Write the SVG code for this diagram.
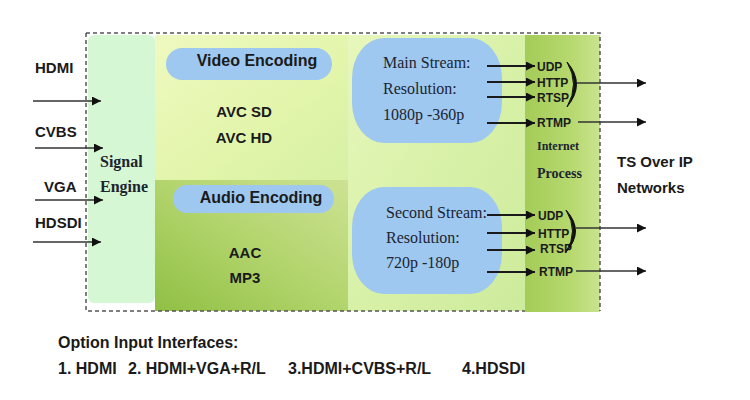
<svg xmlns="http://www.w3.org/2000/svg" width="750" height="400" viewBox="0 0 750 400">
  <style>
    .sans { font-family: "Liberation Sans", Arial, sans-serif; font-weight: bold; fill: #1a1a1a; }
    .lbl { font-size: 15px; }
    .hdr { font-size: 16px; }
    .proto { font-size: 12px; }
    .serif { font-family: "Liberation Serif", "Times New Roman", serif; fill: #1c2430; }
    .st { font-size: 16px; }
    .conn { stroke: #1a1a1a; fill: none; }
    .in { stroke-width: 1.4; stroke: #333; }
    .pr { stroke-width: 2; }
    .out { stroke-width: 1.4; stroke: #333; }
    .brk { fill: #111; stroke: #111; stroke-width: 1; stroke-linejoin: round; }
    .pill { fill: #9ec8f0; }
  </style>
  <defs>
    <marker id="ah" viewBox="0 0 10 10" refX="10" refY="5" markerWidth="9" markerHeight="9" markerUnits="userSpaceOnUse" orient="auto">
      <path d="M0,0 L10,5 L0,10 z" fill="#111"/>
    </marker>
    <linearGradient id="gVideo" x1="0" y1="0" x2="1" y2="1">
      <stop offset="0" stop-color="#eef9c0"/>
      <stop offset="0.6" stop-color="#e2f5aa"/>
      <stop offset="1" stop-color="#d6f0a4"/>
    </linearGradient>
    <linearGradient id="gAudio" x1="0" y1="1" x2="1" y2="0">
      <stop offset="0" stop-color="#90c044"/>
      <stop offset="0.5" stop-color="#b2d46c"/>
      <stop offset="1" stop-color="#cde294"/>
    </linearGradient>
    <linearGradient id="gStream" x1="0" y1="0" x2="1" y2="1">
      <stop offset="0" stop-color="#e8f7bc"/>
      <stop offset="0.5" stop-color="#d8f1a8"/>
      <stop offset="1" stop-color="#cdeb9c"/>
    </linearGradient>
    <linearGradient id="gNet" x1="0" y1="0" x2="1" y2="0">
      <stop offset="0" stop-color="#a4cc58"/>
      <stop offset="0.6" stop-color="#b6d86e"/>
      <stop offset="1" stop-color="#c9e48e"/>
    </linearGradient>
  </defs>

  <rect width="750" height="400" fill="#ffffff"/>

  <g id="video-encoding">
    <rect x="155" y="35" width="193" height="145" fill="url(#gVideo)"/>
    <rect class="pill" x="166" y="48" width="166" height="32" rx="16"/>
    <text class="sans hdr" x="257" y="66" text-anchor="middle">Video Encoding</text>
    <text class="sans lbl" x="244" y="117" text-anchor="middle">AVC SD</text>
    <text class="sans lbl" x="244" y="143" text-anchor="middle">AVC HD</text>
  </g>

  <g id="audio-encoding">
    <rect x="155" y="180" width="193" height="131" fill="url(#gAudio)"/>
    <rect class="pill" x="173" y="185" width="161" height="28" rx="14"/>
    <text class="sans hdr" x="261" y="203" text-anchor="middle">Audio Encoding</text>
    <text class="sans lbl" x="245" y="258" text-anchor="middle">AAC</text>
    <text class="sans lbl" x="245" y="283" text-anchor="middle">MP3</text>
  </g>

  <g id="stream-area">
    <rect x="348" y="35" width="177" height="276" fill="url(#gStream)"/>
  </g>

  <g id="main-stream">
    <rect class="pill" x="352" y="38" width="150" height="105" rx="32" ry="40"/>
    <text class="serif st" x="383" y="68">Main Stream:</text>
    <text class="serif st" x="383" y="94">Resolution:</text>
    <text class="serif st" x="383" y="120">1080p -360p</text>
  </g>

  <g id="second-stream">
    <rect class="pill" x="352" y="187" width="150" height="107" rx="32" ry="40"/>
    <text class="serif st" x="386" y="218">Second Stream:</text>
    <text class="serif st" x="386" y="243">Resolution:</text>
    <text class="serif st" x="386" y="268">720p -180p</text>
  </g>

  <g id="internet-process">
    <rect x="525" y="35" width="75" height="277" fill="url(#gNet)"/>
    <text class="serif" x="537" y="150" font-size="12" font-weight="bold">Internet</text>
    <text class="serif" x="537" y="178" font-size="14" font-weight="bold">Process</text>
    <text class="sans proto" x="537" y="71">UDP</text>
    <text class="sans proto" x="537" y="87">HTTP</text>
    <text class="sans proto" x="537" y="102">RTSP</text>
    <text class="sans proto" x="537" y="127">RTMP</text>
    <text class="sans proto" x="538" y="220">UDP</text>
    <text class="sans proto" x="538" y="238">HTTP</text>
    <text class="sans proto" x="540" y="253">RTSP</text>
    <text class="sans proto" x="539" y="276">RTMP</text>
  </g>

  <g id="signal-engine">
    <rect x="88" y="35" width="67" height="268" rx="6" fill="#d6f7d4"/>
    <text class="serif" x="100" y="167" font-size="16" font-weight="bold">Signal</text>
    <text class="serif" x="100" y="192" font-size="16" font-weight="bold">Engine</text>
  </g>

  <g id="device-border">
    <path d="M86,33 H600 V311 M86,33 V311 H525" fill="none" stroke="#555" stroke-width="1.5" stroke-dasharray="4,3"/>
  </g>

  <g id="inputs">
    <text class="sans lbl" x="35" y="73">HDMI</text>
    <text class="sans lbl" x="35" y="137">CVBS</text>
    <text class="sans lbl" x="44" y="192">VGA</text>
    <text class="sans lbl" x="35" y="228">HDSDI</text>
  </g>

  <g id="output">
    <text class="sans" x="617" y="167" font-size="15">TS Over IP</text>
    <text class="sans" x="617" y="193" font-size="15">Networks</text>
  </g>

  <g id="connectors">
    <path class="conn in" d="M33,101 H101" marker-end="url(#ah)"/>
    <path class="conn in" d="M35,148 H103" marker-end="url(#ah)"/>
    <path class="conn in" d="M35,200 H103" marker-end="url(#ah)"/>
    <path class="conn in" d="M33,242 H101" marker-end="url(#ah)"/>

    <path class="conn pr" d="M487,66 H535" marker-end="url(#ah)"/>
    <path class="conn pr" d="M487,82 H535" marker-end="url(#ah)"/>
    <path class="conn pr" d="M487,97 H535" marker-end="url(#ah)"/>
    <path class="conn pr" d="M487,123 H535" marker-end="url(#ah)"/>
    <path class="conn pr" d="M487,215 H535" marker-end="url(#ah)"/>
    <path class="conn pr" d="M487,233 H535" marker-end="url(#ah)"/>
    <path class="conn pr" d="M487,250 H535" marker-end="url(#ah)"/>
    <path class="conn pr" d="M487,272 H535" marker-end="url(#ah)"/>

    <path class="brk" d="M567,62 Q586,84 567,107 Q580,84 567,62 z"/>
    <path class="brk" d="M566,210 Q585,231 566,252 Q579,231 566,210 z"/>

    <path class="conn out" d="M577,83 H646" marker-end="url(#ah)"/>
    <path class="conn out" d="M578,122 H646" marker-end="url(#ah)"/>
    <path class="conn out" d="M576,228 H646" marker-end="url(#ah)"/>
    <path class="conn out" d="M576,271 H646" marker-end="url(#ah)"/>
  </g>

  <g id="options">
    <text class="sans" x="58" y="348" font-size="16">Option Input Interfaces:</text>
    <text class="sans" y="374" font-size="16"><tspan x="58">1. HDMI</tspan><tspan x="128">2. HDMI+VGA+R/L</tspan><tspan x="288">3.HDMI+CVBS+R/L</tspan><tspan x="462">4.HDSDI</tspan></text>
  </g>
</svg>
